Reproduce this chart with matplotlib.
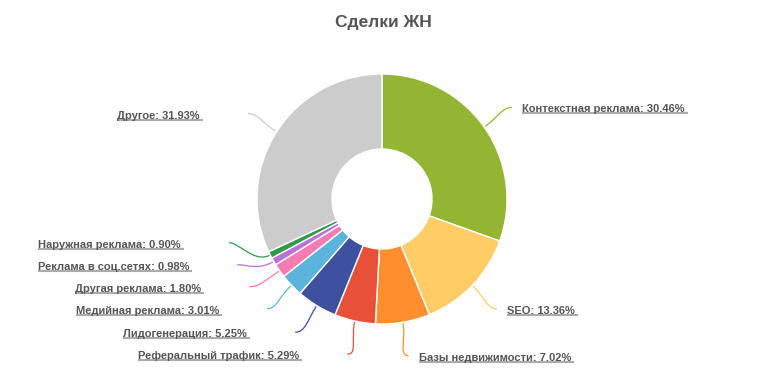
import numpy as np
import matplotlib
matplotlib.use("Agg")
from matplotlib import pyplot as plt
from matplotlib.path import Path
from matplotlib.patches import PathPatch

plt.rcParams['font.family'] = ['Liberation Sans', 'DejaVu Sans']

title = "Сделки ЖН"
labels = ["Контекстная реклама", "SEO", "Базы недвижимости", "Реферальный трафик",
          "Лидогенерация", "Медийная реклама", "Другая реклама", "Реклама в соц.сетях",
          "Наружная реклама", "Другое"]
values = [30.46, 13.36, 7.02, 5.29, 5.25, 3.01, 1.80, 0.98, 0.90, 31.93]
colors = ["#94b434", "#ffcc66", "#ff8f2e", "#e9503a", "#3e519f", "#5ab4dc",
          "#f57bb4", "#bd6fd8", "#2f9b48", "#cccccc"]

W, H = 773, 371
cx, cy = 382, H - 199
R, r_in = 125, 50
text_col = "#555555"

fig = plt.figure(figsize=(W / 100, H / 100), dpi=100)
ax = fig.add_axes([0, 0, 1, 1])
ax.pie(values, colors=colors, startangle=90, counterclock=False, radius=R,
       center=(cx, cy), wedgeprops=dict(width=R - r_in, edgecolor="white", linewidth=1))
ax.set_xlim(0, W)
ax.set_ylim(0, H)
ax.set_aspect("auto")
ax.axis("off")

ax.text(cx + 1, H - 22, title, ha="center", va="center", fontsize=12.5,
        fontweight="bold", color=text_col)

# mid angles of the slices
total = sum(values)
cum = np.cumsum([0] + values[:-1])
mids = np.deg2rad(90 - (cum + np.array(values) / 2) / total * 360)

lr = 159
ends = []
for a in mids:
    ends.append([cx + lr * np.cos(a), cy + lr * np.sin(a)])

# left side bottom-up: keep 22 px apart
left = [i for i in range(len(values)) if np.cos(mids[i]) < 0 and np.sin(mids[i]) < 0]
left.sort(key=lambda i: ends[i][1])
prev = None
for i in left:
    y = ends[i][1]
    if prev is not None and y < prev + 22:
        y = prev + 22
        dy = y - cy
        ends[i] = [cx - np.sqrt(lr ** 2 - dy ** 2), y]
    prev = ends[i][1]

fig.canvas.draw()
rend = fig.canvas.get_renderer()
for i, a in enumerate(mids):
    ex, ey = ends[i]
    p0 = (cx + (R + 1) * np.cos(a), cy + (R + 1) * np.sin(a))
    p1 = (cx + (R + 18) * np.cos(a), cy + (R + 18) * np.sin(a))
    right = ex > cx
    p2 = (ex - 10 if right else ex + 10, ey)
    path = Path([p0, p1, p2, (ex, ey)], [Path.MOVETO, Path.CURVE4, Path.CURVE4, Path.CURVE4])
    ax.add_patch(PathPatch(path, fc="none", ec=colors[i], lw=0.9))
    s = f"{labels[i]}: {values[i]:.2f}% "
    if right:
        t = ax.text(ex + 10, ey - 2, s, ha="left", va="center", fontsize=8,
                    fontweight="bold", color=text_col)
    else:
        t = ax.text(ex - 45, ey - 2, s, ha="right", va="center", fontsize=8,
                    fontweight="bold", color=text_col)
    bb = t.get_window_extent(rend)
    uy = bb.y0 + 1
    ax.plot([bb.x0, bb.x1], [uy, uy], color="#aaaaaa", lw=1.5, solid_capstyle="butt")

fig.savefig("out.png", dpi=100)
